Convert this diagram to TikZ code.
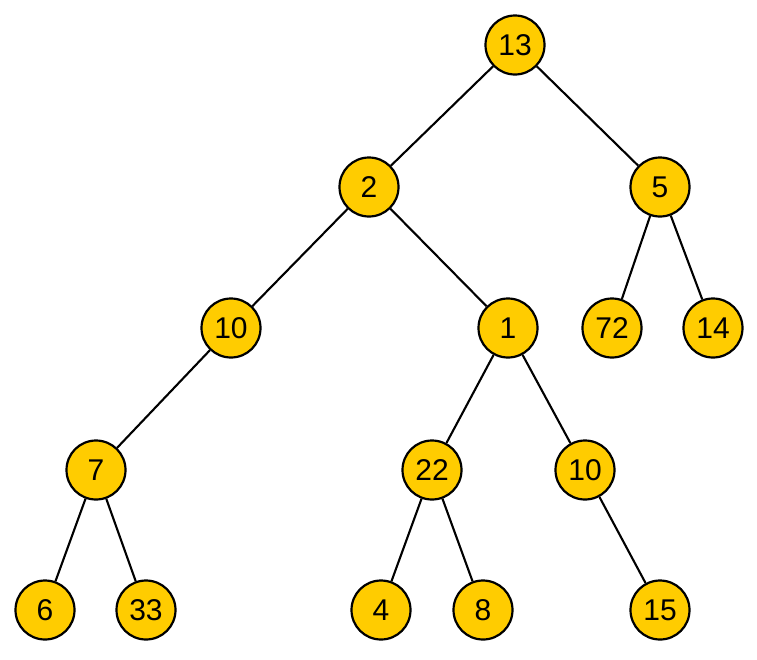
\documentclass[tikz,border=0pt]{standalone}
\usepackage{fontspec}
\setmainfont{Liberation Sans}
\definecolor{gold}{RGB}{255,204,0}
\begin{document}
\begin{tikzpicture}[x=1pt, y=-1pt, font=\fontsize{30}{34}\selectfont,
    V/.style={circle, fill=gold, draw=black, line width=2.2pt,
              minimum size=59pt, inner sep=0pt},
    E/.style={line width=2.1pt}]
  \useasboundingbox (0,0) rectangle (757,659);
  % --- Seviye 0-1 ---
  \node[V] (n13) at (515,45) {13};
  \node[V] (n2)  at (369,187) {2};
  \node[V] (n5)  at (660,187) {5};
  % --- Seviye 2 ---
  \node[V] (n10a) at (231,328) {10};
  \node[V] (n1)   at (508,328) {1};
  \node[V] (n72)  at (612,328) {72};
  \node[V] (n14)  at (713,328) {14};
  % --- Seviye 3 ---
  \node[V] (n7)   at (96,470) {7};
  \node[V] (n22)  at (432,470) {22};
  \node[V] (n10b) at (585,470) {10};
  % --- Seviye 4 ---
  \node[V] (n6)  at (45,610) {6};
  \node[V] (n33) at (146,610) {33};
  \node[V] (n4)  at (381,610) {4};
  \node[V] (n8)  at (483,610) {8};
  \node[V] (n15) at (660,610) {15};

  % --- Kenarlar ---
  \foreach \a/\b in {n13/n2, n13/n5, n2/n10a, n2/n1, n5/n72, n5/n14,
                     n10a/n7, n1/n22, n1/n10b, n7/n6, n7/n33,
                     n22/n4, n22/n8, n10b/n15} {
    \draw[E] (\a) -- (\b);
  }
\end{tikzpicture}
\end{document}
